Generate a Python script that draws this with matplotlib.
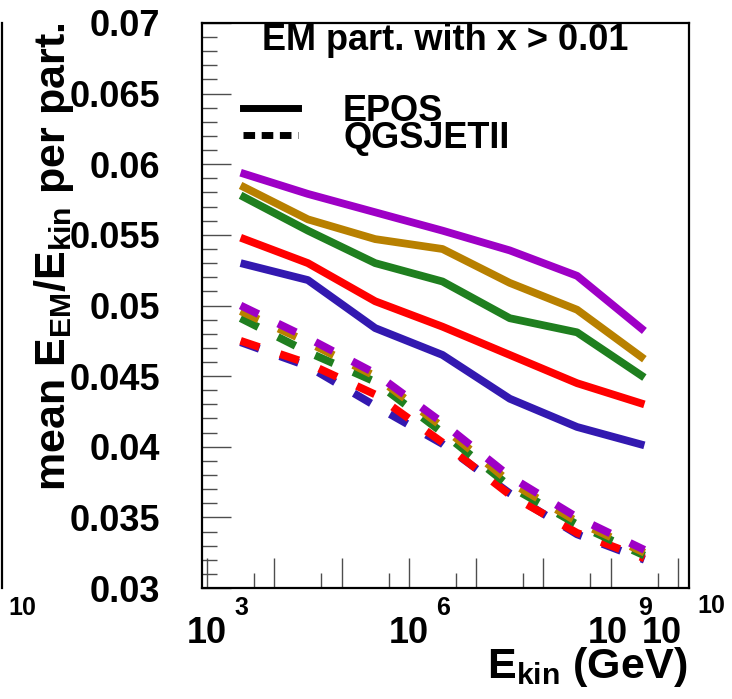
import numpy as np
import matplotlib
matplotlib.use("Agg")
import matplotlib.pyplot as plt
from matplotlib.lines import Line2D
from matplotlib.ticker import FixedLocator, NullFormatter

plt.rcParams['font.family'] = 'Liberation Sans'
plt.rcParams['font.weight'] = 'bold'
plt.rcParams['mathtext.fontset'] = 'custom'
plt.rcParams['mathtext.rm'] = 'Liberation Sans:bold'
plt.rcParams['mathtext.it'] = 'Liberation Sans:bold'
plt.rcParams['mathtext.bf'] = 'Liberation Sans:bold'

# energia cinetica (GeV) dos pontos
E_kin = [3.16e3, 3.16e4, 3.16e5, 3.16e6, 3.16e7, 3.16e8, 3.16e9]

# EPOS (linhas cheias)
epos_violeta = [0.0594, 0.0579, 0.0566, 0.0553, 0.0539, 0.0521, 0.0482]
epos_laranja = [0.0585, 0.0561, 0.0547, 0.0540, 0.0516, 0.0497, 0.0462]
epos_verde = [0.0578, 0.0553, 0.0530, 0.0517, 0.0491, 0.0481, 0.0449]
epos_vermelho = [0.0548, 0.0530, 0.0503, 0.0485, 0.0465, 0.0445, 0.0430]
epos_azul = [0.0530, 0.0518, 0.0484, 0.0465, 0.0434, 0.0414, 0.0401]

# QGSJETII (linhas tracejadas)
qgs_violeta = [0.0500, 0.0477, 0.0452, 0.0417, 0.0379, 0.0350, 0.0327]
qgs_laranja = [0.0496, 0.0474, 0.0450, 0.0414, 0.0375, 0.0347, 0.0325]
qgs_verde = [0.0491, 0.0467, 0.0446, 0.0410, 0.0372, 0.0345, 0.0323]
qgs_vermelho = [0.0475, 0.0459, 0.0437, 0.0403, 0.0366, 0.0339, 0.0321]
qgs_azul = [0.0474, 0.0457, 0.0429, 0.0402, 0.0367, 0.0338, 0.0320]

cores = ['#3319b0', '#ff0000', '#1f7f1f', '#b88000', '#9e00c6']
epos = [epos_azul, epos_vermelho, epos_verde, epos_laranja, epos_violeta]
qgs = [qgs_azul, qgs_vermelho, qgs_verde, qgs_laranja, qgs_violeta]

y_ticks = [0.03, 0.035, 0.04, 0.045, 0.05, 0.055, 0.06, 0.065, 0.07]
y_ticklabels = ['0.03', '0.035', '0.04', '0.045', '0.05', '0.055', '0.06', '0.065', '0.07']
x_decadas = [3, 4, 5, 6, 7, 8, 9, 10]
x_rotulos = [3, 6, 9, 10]

W, H = 732, 699
fig = plt.figure(figsize=(W / 100, H / 100), dpi=100)
ax = fig.add_axes([202 / W, 1 - 588 / H, 487 / W, 565 / H])

lw = 5.6
for cor, y in zip(cores, qgs):
    ax.plot(E_kin, y, color=cor, lw=lw, dashes=(2.55, 2.8), solid_capstyle='butt',
            dash_capstyle='butt')
for cor, y in zip(cores, epos):
    ax.plot(E_kin, y, color=cor, lw=lw, solid_capstyle='butt', solid_joinstyle='round')

ax.set_xscale('log')
ax.set_xlim(10 ** 2.926, 10 ** 10.163)
ax.set_ylim(0.03, 0.07)

# eixos estilo ROOT
for s in ax.spines.values():
    s.set_linewidth(1.6)
ax.xaxis.set_major_locator(FixedLocator([10.0 ** d for d in x_decadas]))
ax.xaxis.set_minor_locator(FixedLocator([5 * 10.0 ** d for d in x_decadas[:-1]]))
ax.xaxis.set_major_formatter(NullFormatter())
ax.xaxis.set_minor_formatter(NullFormatter())
ax.set_yticks(y_ticks)
ax.set_yticklabels(y_ticklabels)
ax.yaxis.set_minor_locator(FixedLocator(np.arange(0.03, 0.0701, 0.001)))
ax.tick_params(axis='x', which='major', direction='in', length=21.5, width=1, color='0.3',
               top=False)
ax.tick_params(axis='x', which='minor', direction='in', length=10.8, width=1, color='0.3',
               top=False)
ax.tick_params(axis='y', which='major', direction='in', length=21, width=1, color='0.3',
               right=False, labelsize=26, pad=30)
ax.tick_params(axis='y', which='minor', direction='in', length=10.8, width=1, color='0.3',
               right=False)

# rotulos do eixo x: 10 com expoente afastado
base_dx = [0, 0, -2.5, -16.5]
exp_dx = [28, 27, 27, 19]
exp_dy = [-27, -27, -27, -25]
for e, bdx, edx, edy in zip(x_rotulos, base_dx, exp_dx, exp_dy):
    ax.annotate('10', xy=(10.0 ** e, 0), xycoords=('data', 'axes fraction'),
                xytext=(bdx, -55), textcoords='offset pixels',
                ha='center', va='baseline', fontsize=26, annotation_clip=False)
    ax.annotate(str(e), xy=(10.0 ** e, 0), xycoords=('data', 'axes fraction'),
                xytext=(edx, edy), textcoords='offset pixels',
                ha='left', va='baseline', fontsize=18, annotation_clip=False)

ax.text(0.5, 1 - 27 / 565, 'EM part. with x > 0.01', transform=ax.transAxes,
        ha='center', va='baseline', fontsize=26)

h_epos = Line2D([], [], color='k', lw=5)
h_qgs = Line2D([], [], color='k', lw=5, dashes=(1.67, 0.95))
ax.legend([h_epos, h_qgs], ['EPOS', 'QGSJETII'], loc='upper left',
          bbox_to_anchor=(41 / 487, 1 - 71 / 565), frameon=False, fontsize=26,
          handlelength=1.52, handletextpad=1.25, borderpad=0, borderaxespad=0,
          labelspacing=-0.22)

fig.text(687 / W, 1 - 678 / H, r'$\mathbf{E_{kin}}$ (GeV)', ha='right', va='baseline',
         fontsize=31)
fig.text(65 / W, 1 - 23 / H, r'mean $\mathbf{E_{EM}/E_{kin}}$ per part.', rotation=90,
         rotation_mode='anchor', ha='right', va='baseline', fontsize=31)

# restos do painel vizinho a esquerda
fig.add_artist(Line2D([2 / W, 2 / W], [1 - 588 / H, 1 - 23 / H], color='k', lw=1.6))
fig.text(8 / W, 1 - 615 / H, '10', ha='left', va='baseline', fontsize=18)

fig.savefig('out.png', dpi=100)
